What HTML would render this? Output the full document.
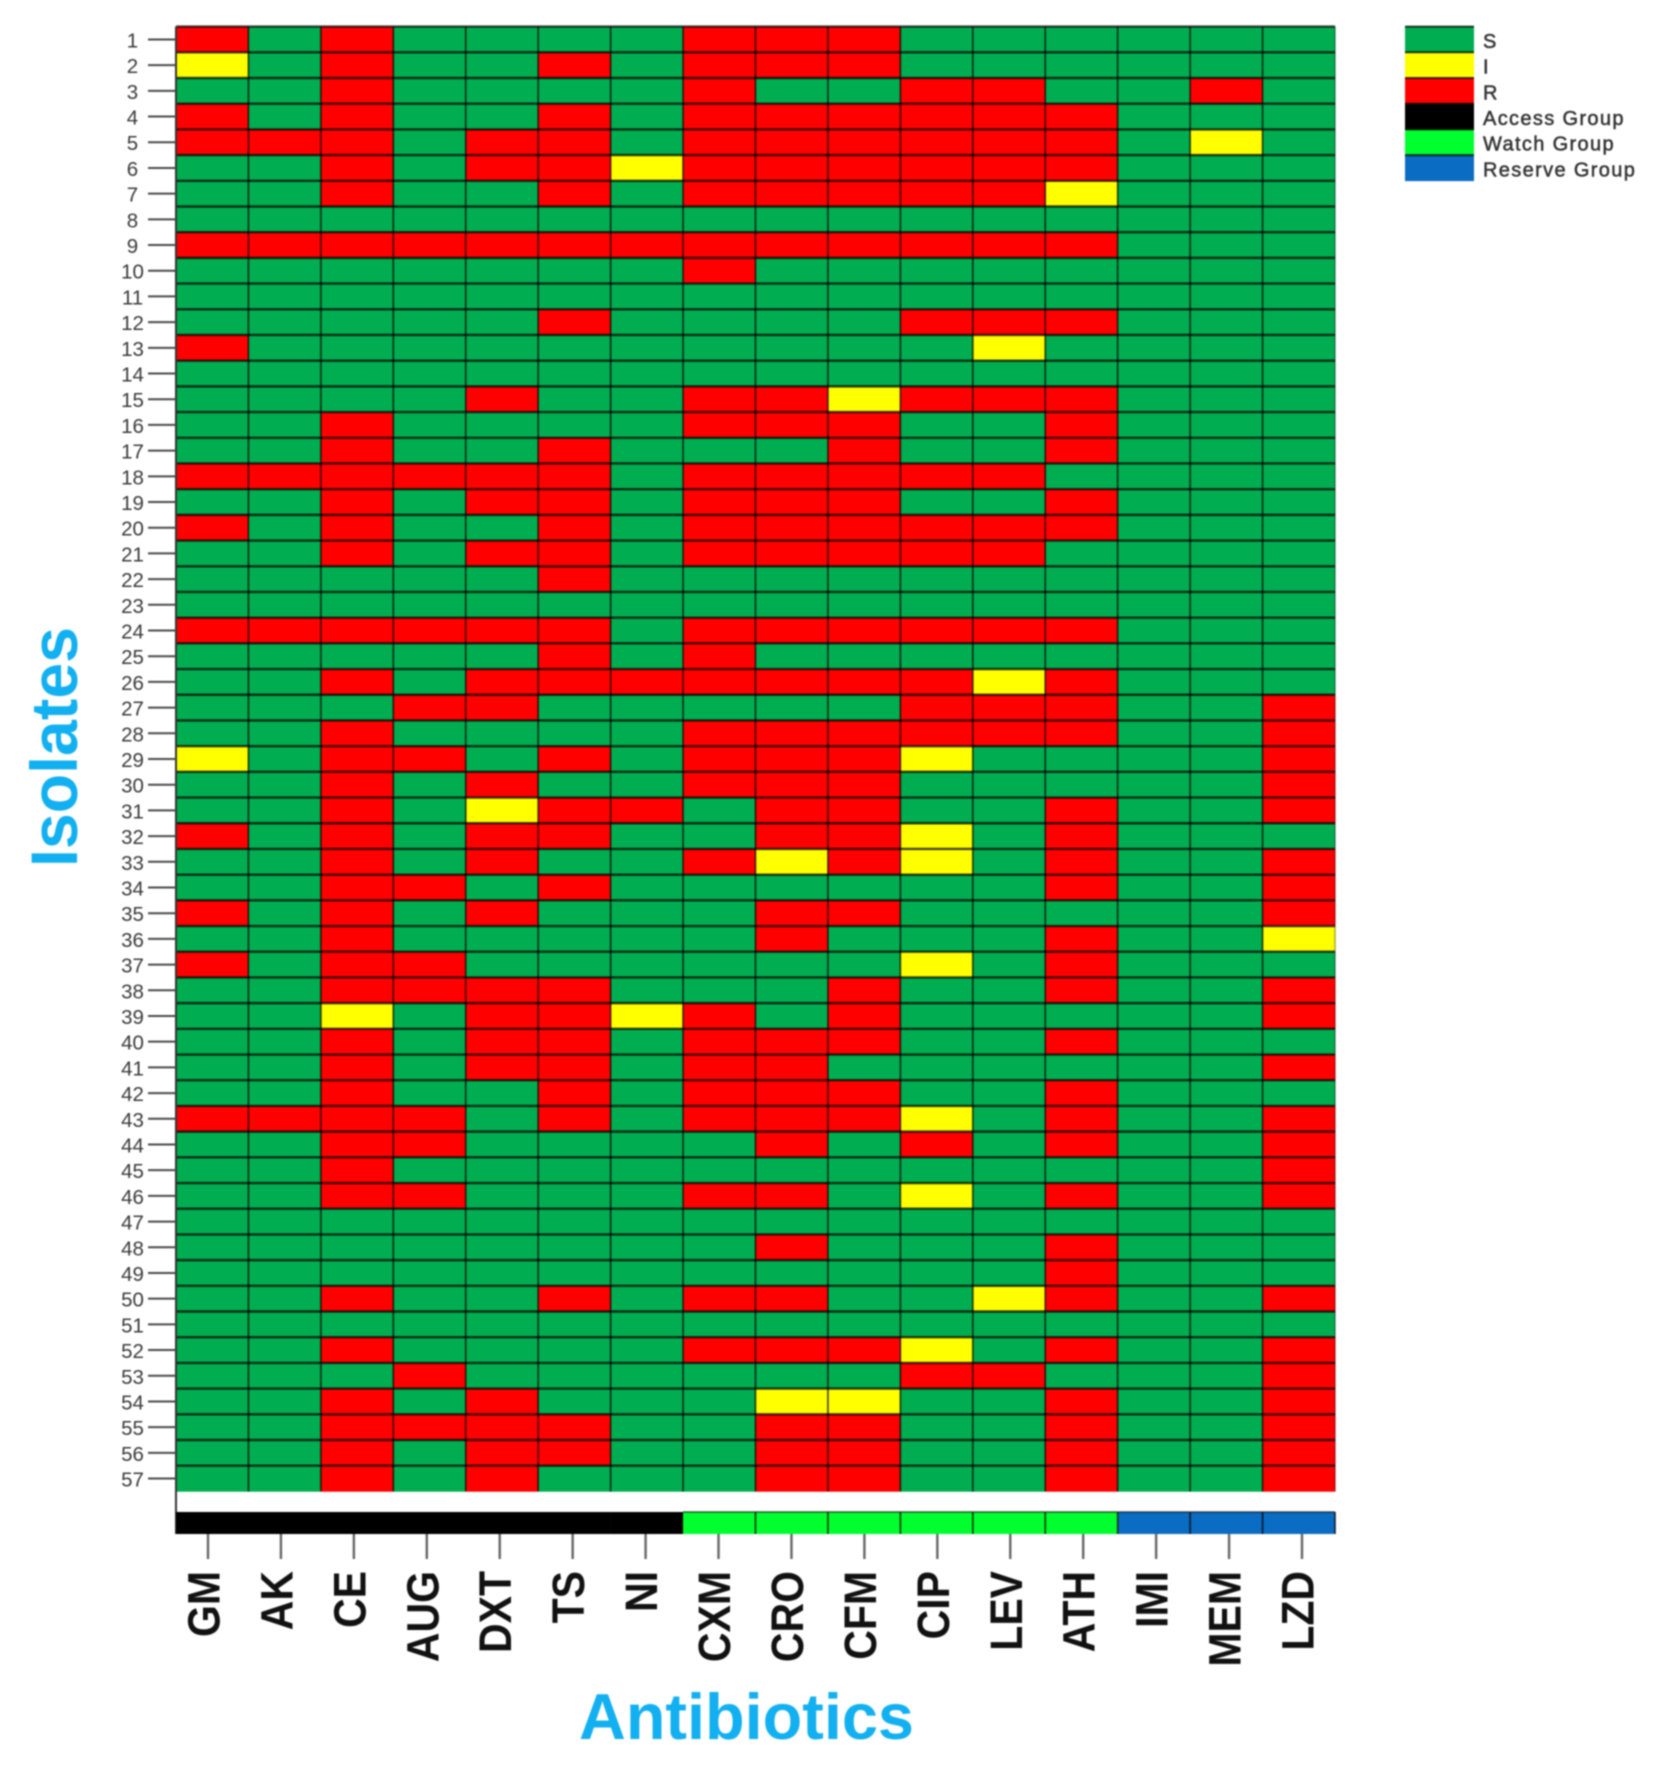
<!DOCTYPE html>
<html lang="en">
<head>
<meta charset="utf-8">
<title>Antibiotic resistance heatmap</title>
<style>
html,body{margin:0;padding:0;background:#fff;}
svg{display:block;filter:blur(0.8px);font-family:"Liberation Sans",Arial,sans-serif;}
</style>
</head>
<body>
<svg id="chart" xmlns="http://www.w3.org/2000/svg" width="1654" height="1774" viewBox="0 0 1654 1774">
  <rect x="0" y="0" width="1654" height="1774" fill="#ffffff"/>
  <g id="cells"></g>
  <g id="grid"></g>
  <g id="groupBar"></g>
  <g id="yAxis"></g>
  <g id="xAxis"></g>
  <g id="legend"></g>
  <text transform="translate(77 867) rotate(-90)" font-size="66" font-weight="700" fill="#12b0f0" textLength="240" lengthAdjust="spacingAndGlyphs">Isolates</text>
  <text x="579" y="1739" font-size="64.5" font-weight="700" fill="#12b0f0" textLength="335" lengthAdjust="spacingAndGlyphs">Antibiotics</text>
</svg>
<script>
const antibiotics = ["GM","AK","CE","AUG","DXT","TS","NI","CXM","CRO","CFM","CIP","LEV","ATH","IMI","MEM","LZD"];
const antibioticGroups = ["A","A","A","A","A","A","A","W","W","W","W","W","W","E","E","E"];
const isolates = [1,2,3,4,5,6,7,8,9,10,11,12,13,14,15,16,17,18,19,20,21,22,23,24,25,26,27,28,29,30,31,32,33,34,35,36,37,38,39,40,41,42,43,44,45,46,47,48,49,50,51,52,53,54,55,56,57];
const susceptibility = [
"RSRSSSSRRRSSSSSS",
"ISRSSRSRRRSSSSSS",
"SSRSSSSRSSRRSSRS",
"RSRSSRSRRRRRRSSS",
"RRRSRRSRRRRRRSIS",
"SSRSRRIRRRRRRSSS",
"SSRSSRSRRRRRISSS",
"SSSSSSSSSSSSSSSS",
"RRRRRRRRRRRRRSSS",
"SSSSSSSRSSSSSSSS",
"SSSSSSSSSSSSSSSS",
"SSSSSRSSSSRRRSSS",
"RSSSSSSSSSSISSSS",
"SSSSSSSSSSSSSSSS",
"SSSSRSSRRIRRRSSS",
"SSRSSSSRRRSSRSSS",
"SSRSSRSSSRSSRSSS",
"RRRRRRSRRRRRSSSS",
"SSRSRRSRRRSSRSSS",
"RSRSSRSRRRRRRSSS",
"SSRSRRSRRRRRSSSS",
"SSSSSRSSSSSSSSSS",
"SSSSSSSSSSSSSSSS",
"RRRRRRSRRRRRRSSS",
"SSSSSRSRSSSSSSSS",
"SSRSRRRRRRRIRSSS",
"SSSRRSSSSSRRRSSR",
"SSRSSSSRRRRRRSSR",
"ISRRSRSRRRISSSSR",
"SSRSRSSRRRSSSSSR",
"SSRSIRRSRRSSRSSR",
"RSRSRRSSRRISRSSS",
"SSRSRSSRIRISRSSR",
"SSRRSRSSSSSSRSSR",
"RSRSRSSSRRSSSSSR",
"SSRSSSSSRSSSRSSI",
"RSRRSSSSSSISRSSS",
"SSRRRRSSSRSSRSSR",
"SSISRRIRSRSSSSSR",
"SSRSRRSRRRSSRSSS",
"SSRSRRSRRSSSSSSR",
"SSRSSRSRRRSSRSSS",
"RRRRSRSRRRISRSSR",
"SSRRSSSSRSRSRSSR",
"SSRSSSSSSSSSSSSR",
"SSRRSSSRRSISRSSR",
"SSSSSSSSSSSSSSSS",
"SSSSSSSSRSSSRSSS",
"SSSSSSSSSSSSRSSS",
"SSRSSRSRRSSIRSSR",
"SSSSSSSSSSSSSSSS",
"SSRSSSSRRRISRSSR",
"SSSRSSSSSSRRSSSR",
"SSRSRSSSIISSRSSR",
"SSRRRRSSRRSSRSSR",
"SSRSRRSSRRSSRSSR",
"SSRSRSSSRRSSRSSR"
];
const legendLabels = ["S","I","R","Access Group","Watch Group","Reserve Group"];

const COLORS = {S:"#00ad50",I:"#ffff00",R:"#ff0000",A:"#000000",W:"#00ff2e",E:"#0a6cc2"};
const legendKeys = ["S","I","R","A","W","E"];
const NS = "http://www.w3.org/2000/svg";
const plot = {left:176,right:1335,top:26.6,bottom:1491.4,barTop:1512,barBottom:1534};
const xScale = i => plot.left + (plot.right - plot.left) * i / antibiotics.length;
const yScale = i => plot.top + (plot.bottom - plot.top) * i / isolates.length;
const xTick = i => 208 + (1302 - 208) * i / (antibiotics.length - 1);

function make(parent, tag, attrs, text) {
  const el = document.createElementNS(NS, tag);
  for (const k in attrs) el.setAttribute(k, attrs[k]);
  if (text !== undefined) el.textContent = text;
  document.getElementById(parent).appendChild(el);
  return el;
}

susceptibility.forEach((row, r) => {
  antibiotics.forEach((name, c) => {
    const cell = make("cells", "rect", {x:xScale(c), y:yScale(r), width:xScale(c + 1) - xScale(c) + 0.3, height:yScale(r + 1) - yScale(r) + 0.3, fill:COLORS[row[c]]});
    
    
  });
});

for (let r = 0; r < isolates.length; r++) {
  const line = make("grid", "line", {x1:plot.left, x2:plot.right, y1:yScale(r), y2:yScale(r), stroke:"#000", "stroke-opacity":0.72, "stroke-width":2.4});
  
  
}
for (let c = 1; c <= antibiotics.length; c++) {
  const line = make("grid", "line", {x1:xScale(c), x2:xScale(c), y1:plot.top, y2:plot.bottom, stroke:"#000", "stroke-opacity":c === antibiotics.length ? 0.3 : 0.7, "stroke-width":1.7});
  
  
}
const spine = make("grid", "line", {x1:plot.left, x2:plot.left, y1:plot.top, y2:plot.barBottom, stroke:"#333", "stroke-width":2});



antibioticGroups.forEach((g, c) => {
  const seg = make("groupBar", "rect", {x:xScale(c), y:plot.barTop, width:xScale(c + 1) - xScale(c) + 0.3, height:plot.barBottom - plot.barTop, fill:COLORS[g]});
  
  
});
antibioticGroups.forEach((g, c) => {
  if (g === "A") return;
  const v = make("groupBar", "line", {x1:xScale(c + 1), x2:xScale(c + 1), y1:plot.barTop, y2:plot.barBottom, stroke:"#000", "stroke-opacity":0.7, "stroke-width":1.8});
  
  
  const t = make("groupBar", "line", {x1:xScale(c), x2:xScale(c + 1), y1:plot.barTop, y2:plot.barTop, stroke:"#000", "stroke-opacity":0.65, "stroke-width":1.6});
  
  
});

isolates.forEach((id, r) => {
  const cy = (yScale(r) + yScale(r + 1)) / 2;
  const tick = make("yAxis", "line", {x1:148, x2:176, y1:cy, y2:cy, stroke:"#4a4a4a", "stroke-width":2});
  
  
  const label = make("yAxis", "text", {x:132.5, y:cy + 8, "text-anchor":"middle", "font-size":20.5, fill:"#3a3a3a"}, id);
  
  
});

antibiotics.forEach((name, c) => {
  const tx = xTick(c);
  const tick = make("xAxis", "line", {x1:tx, x2:tx, y1:plot.barBottom, y2:1559, stroke:"#666", "stroke-width":2.4});
  
  
  const label = make("xAxis", "text", {transform:"translate(" + (tx + 11.5) + " 1571) rotate(-90) scale(1 1.1)", "text-anchor":"end", "font-size":41, "font-weight":700, fill:"#111"}, name);
  
  
});

legendLabels.forEach((text, i) => {
  const swatch = make("legend", "rect", {x:1405, y:yScale(i), width:69, height:yScale(i + 1) - yScale(i) + 0.3, fill:COLORS[legendKeys[i]]});
  
  
  const sep = make("legend", "line", {x1:1405, x2:1474, y1:yScale(i), y2:yScale(i), stroke:"#000", "stroke-opacity":0.75, "stroke-width":2});
  
  
  const label = make("legend", "text", {x:1483, y:(yScale(i) + yScale(i + 1)) / 2 + 8.5, "font-size":20, "letter-spacing":1.35, fill:"#333", stroke:"#333", "stroke-width":0.5}, text);
  
  
});
</script>
</body>
</html>
